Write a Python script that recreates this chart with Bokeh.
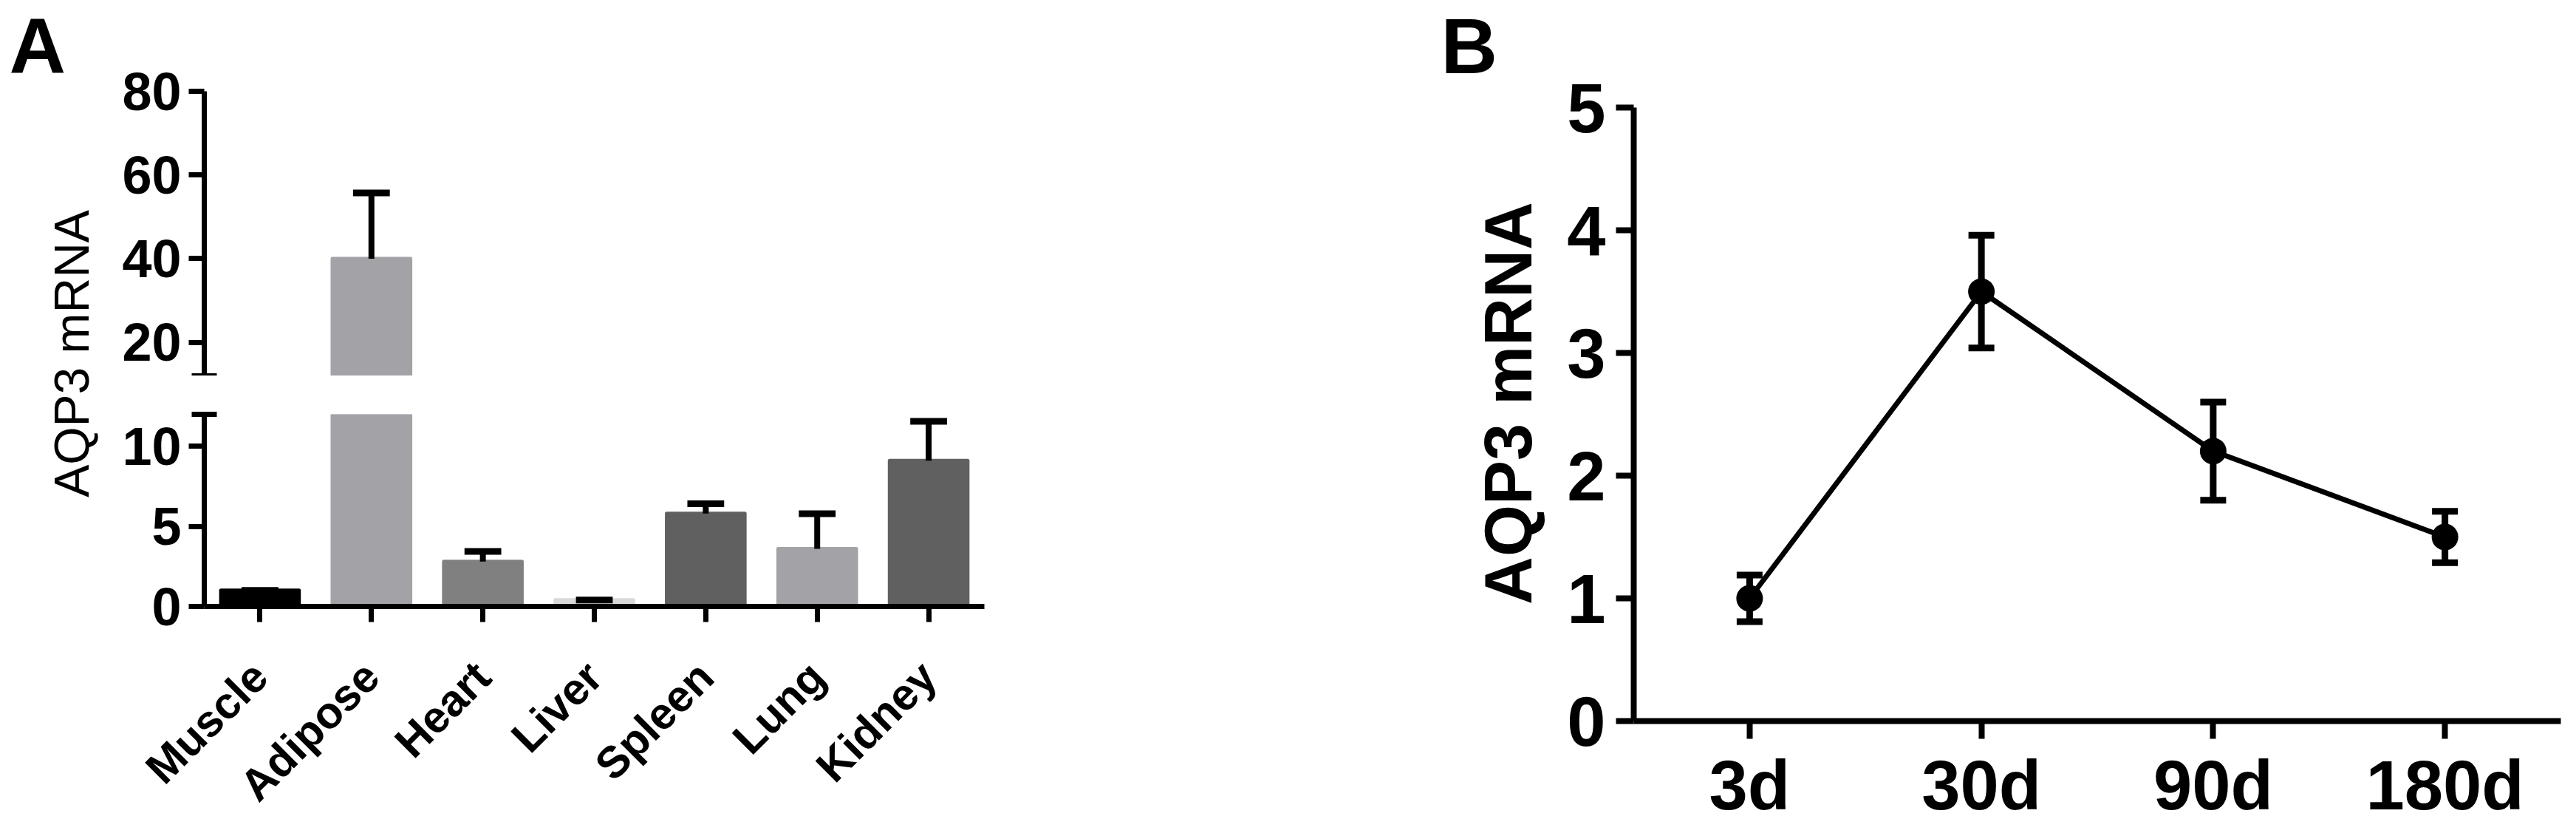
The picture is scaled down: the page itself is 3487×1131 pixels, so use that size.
import math
from bokeh.plotting import figure
from bokeh.models import (FactorRange, Range1d, FixedTicker, Label, ColumnDataSource,
                          CDSView, BooleanFilter)
from bokeh.layouts import row, column
from bokeh.embed import file_html
from bokeh.resources import INLINE

# ---------------- data ----------------
tissues = ["Muscle", "Adipose", "Heart", "Liver", "Spleen", "Lung", "Kidney"]
tissue_mean = [1.0, 40.0, 2.8, 0.4, 5.8, 3.6, 9.1]
tissue_err = [0.0, 15.7, 0.64, 0.0, 0.61, 2.19, 2.46]
tissue_colors = ["#000000", "#a3a2a7", "#808080", "#d9d9d9", "#606060", "#a3a2a7", "#606060"]
a_upper_ticks = [20, 40, 60, 80]
a_lower_ticks = [0, 5, 10]
a_break = 12          # lower segment 0-12, upper segment 12-80
a_top = 80

times = ["3d", "30d", "90d", "180d"]
time_mean = [1.0, 3.5, 2.2, 1.5]
time_err = [0.19, 0.46, 0.40, 0.21]
b_ticks = [0, 1, 2, 3, 4, 5]

y_title = "AQP3 mRNA"
FONT = "Liberation Sans"
H = 1131

# ---------------- helpers ----------------
def clean(p):
    p.grid.visible = False
    p.outline_line_color = None
    p.background_fill_color = "white"
    p.border_fill_color = "white"
    p.frame_align = False

def style_axis(ax, lw, tick_out, fsize, standoff):
    ax.axis_line_width = lw
    ax.axis_line_color = "black"
    ax.major_tick_line_width = lw
    ax.major_tick_line_color = "black"
    ax.major_tick_out = tick_out
    ax.major_tick_in = 0
    ax.minor_tick_line_color = None
    ax.major_label_text_font = FONT
    ax.major_label_text_font_style = "bold"
    ax.major_label_text_font_size = f"{fsize}px"
    ax.major_label_text_color = "black"
    ax.major_label_standoff = standoff

def text_panel(width, labels):
    p = figure(width=width, height=H, x_range=Range1d(0, width), y_range=Range1d(H, 0),
               x_axis_location=None, y_axis_location=None, toolbar_location=None,
               output_backend="svg", min_border=0)
    clean(p)
    for lab in labels:
        p.add_layout(lab)
    return p

tops = [m + e for m, e in zip(tissue_mean, tissue_err)]
srcA = ColumnDataSource(dict(tissue=tissues, mean=tissue_mean, top=tops, color=tissue_colors))
view_up_bar = CDSView(filter=BooleanFilter([m > a_break for m in tissue_mean]))
view_up_err = CDSView(filter=BooleanFilter([t > a_break for t in tops]))
view_lo_err = CDSView(filter=BooleanFilter([t <= a_break for t in tops]))

xr_a = FactorRange(factors=tissues, range_padding=0)

# ---------------- panel A letter + y title (page x 0..148) ----------------
pt = text_panel(148, [
    Label(x=12, y=61, text="A", text_font=FONT, text_font_style="bold",
          text_font_size="106px", text_baseline="middle", text_align="left", text_color="black"),
    Label(x=96, y=478, text=y_title, angle=math.pi / 2, text_font=FONT,
          text_font_size="66px", text_align="center", text_baseline="middle", text_color="black"),
])

# ---------------- panel A upper segment (page x 148..1352) ----------------
pu = figure(width=1204, height=508, x_range=xr_a, y_range=Range1d(a_break, a_top),
            x_axis_location=None, toolbar_location=None, output_backend="svg",
            min_border_left=128, min_border_right=20, min_border_top=123, min_border_bottom=0)
clean(pu)

# ---------------- panel A lower segment ----------------
pl = figure(width=1204, height=H - 508, x_range=xr_a, y_range=Range1d(0, a_break),
            toolbar_location=None, output_backend="svg",
            min_border_left=128, min_border_right=20, min_border_top=52,
            min_border_bottom=H - 508 - 52 - 260)
clean(pl)

for p, ticks, vb, ve in ((pu, a_upper_ticks, view_up_bar, view_up_err),
                         (pl, a_lower_ticks, CDSView(), view_lo_err)):
    p.vbar(x="tissue", top="mean", bottom=0, width=0.70, fill_color="color",
           line_color="color", line_width=5, line_join="round", source=srcA, view=vb)
    p.segment(x0="tissue", y0="mean", x1="tissue", y1="top", line_width=8,
              line_color="black", source=srcA, view=ve)
    p.rect(x="tissue", y="top", width=0.33, height=9, height_units="screen",
           fill_color="black", line_color=None, source=srcA, view=ve)
    ya = p.yaxis[0]
    style_axis(ya, 7, 21, 72, 10)
    ya.ticker = FixedTicker(ticks=ticks, minor_ticks=[a_break])
    ya.minor_tick_line_color = "black"
    ya.minor_tick_line_width = 7
    ya.minor_tick_in = 17
    ya.minor_tick_out = 17

xa = pl.xaxis[0]
style_axis(xa, 7, 21, 60, 64)
xa.major_label_orientation = math.pi / 4

# ---------------- panel B letter + y title (page x 1352..2110) ----------------
ptB = text_panel(758, [
    Label(x=1950 - 1352, y=61, text="B", text_font=FONT, text_font_style="bold",
          text_font_size="106px", text_baseline="middle", text_align="left", text_color="black"),
    Label(x=2041 - 1352, y=545, text=y_title, angle=math.pi / 2, text_font=FONT,
          text_font_style="bold", text_font_size="90px", text_align="center",
          text_baseline="middle", text_color="black"),
])

# ---------------- panel B plot (page x 2110..3476) ----------------
srcB = ColumnDataSource(dict(time=times, mean=time_mean,
                             lo=[m - e for m, e in zip(time_mean, time_err)],
                             hi=[m + e for m, e in zip(time_mean, time_err)]))
pb = figure(width=1366, height=H, x_range=FactorRange(factors=times, range_padding=0),
            y_range=Range1d(b_ticks[0], b_ticks[-1]), toolbar_location=None,
            output_backend="svg", min_border_left=101, min_border_right=10,
            min_border_top=145, min_border_bottom=H - 975)
clean(pb)
pb.line(x="time", y="mean", line_width=7, line_color="black", source=srcB)
pb.segment(x0="time", y0="lo", x1="time", y1="hi", line_width=9, line_color="black", source=srcB)
pb.rect(x="time", y="lo", width=35, height=9, width_units="screen", height_units="screen",
        fill_color="black", line_color=None, source=srcB)
pb.rect(x="time", y="hi", width=35, height=9, width_units="screen", height_units="screen",
        fill_color="black", line_color=None, source=srcB)
pb.scatter(x="time", y="mean", size=36, marker="circle", fill_color="black",
           line_color=None, source=srcB)

style_axis(pb.xaxis[0], 8, 24, 94, 10)
style_axis(pb.yaxis[0], 8, 24, 94, 14)
pb.yaxis[0].ticker = FixedTicker(ticks=b_ticks)

layout = row(pt, column(pu, pl), ptB, pb)
open("out.html", "w").write(file_html(layout, INLINE))
